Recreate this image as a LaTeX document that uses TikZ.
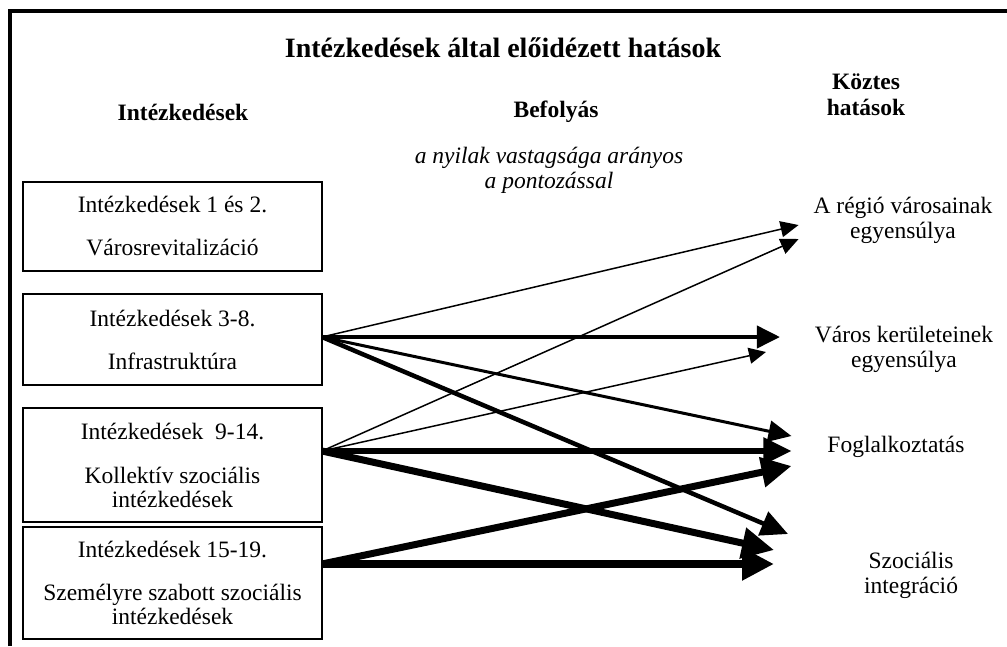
\documentclass[tikz,border=0pt]{standalone}
\usepackage{fontspec}
\setmainfont{Liberation Serif}
\usetikzlibrary{arrows.meta,calc}

\begin{document}
\begin{tikzpicture}[x=1pt,y=-1pt,
  every node/.style={inner sep=0pt, outer sep=0pt},
  measure/.style={draw, line width=1.2pt, minimum width=299pt, align=center,
    font=\fontsize{23.5}{24}\selectfont},
  effect/.style={align=center, font=\fontsize{23.5}{25}\selectfont},
  head/.style={align=center, font=\fontsize{23.5}{26}\selectfont\bfseries},
  infl/.style n args={3}{line width=#1, -{Triangle[length=#2,width=#3]}},
]
\useasboundingbox (0,0) rectangle (1007,646);

% frame: top and left rules
\draw[line width=4pt, line join=miter] (10,646) -- (10,10.5) -- (1007,10.5);

% title and column heads
\node[font=\fontsize{28}{30}\selectfont\bfseries] (title) at (503,48)
  {Intézkedések által előidézett hatások};
\node[head] (hMeasures) at (183,112) {Intézkedések};
\node[head] (hInfl) at (556,112) {Befolyás};
\node[head] (hEffects) at (866,95) {Köztes\\hatások};
\node[effect, font=\fontsize{23.5}{25}\selectfont\itshape] (note) at (549,170)
  {a nyilak vastagsága arányos\\a pontozással};

% measures
\node[measure, minimum height=89pt] (b1) at (172.5,226.5)
  {Intézkedések 1 és 2.\\[19pt]Városrevitalizáció};
\node[measure, minimum height=91pt] (b2) at (172.5,339.5)
  {Intézkedések 3-8.\\[19pt]Infrastruktúra};
\node[measure, minimum height=114pt] (b3) at (172.5,465)
  {Intézkedések\ \ 9-14.\\[20pt]Kollektív szociális\\intézkedések};
\node[measure, minimum height=112pt] (b4) at (172.5,583)
  {Intézkedések 15-19.\\[19pt]Személyre szabott szociális\\intézkedések};

% intermediate effects
\node[effect] (r1) at (903,220) {A régió városainak\\egyensúlya};
\node[effect] (r2) at (904,349.5) {Város kerületeinek\\egyensúlya};
\node[effect] (r3) at (896,447) {Foglalkoztatás};
\node[effect] (r4) at (911,575.5) {Szociális\\integráció};

% arrow origins on the measure boxes
\coordinate (s2) at ($(b2.north east)+(0,43)$);
\coordinate (s3) at ($(b3.north east)+(0,43)$);
\coordinate (s4) at ($(b4.north east)+(0,37)$);

% arrow tips in front of the effects
\coordinate (t1a) at ($(r1.west)+(-15,5)$);
\coordinate (t1b) at ($(r1.west)+(-15,19)$);
\coordinate (t2a) at ($(r2.west)+(-35,-12.5)$);
\coordinate (t2b) at ($(r2.west)+(-49,2.5)$);
\coordinate (t3a) at ($(r3.west)+(-36,-11)$);
\coordinate (t3b) at ($(r3.west)+(-36,4)$);
\coordinate (t3c) at ($(r3.west)+(-36,19)$);
\coordinate (t4a) at ($(r4.west)+(-76,-41.5)$);
\coordinate (t4b) at ($(r4.west)+(-90,-25.5)$);
\coordinate (t4c) at ($(r4.west)+(-90,-11.5)$);

% influences, line width proportional to the score
\draw[infl={1.5pt}{18pt}{16pt}] (s2) -- (t1a);
\draw[infl={1.5pt}{18pt}{16pt}] (s3) -- (t1b);
\draw[infl={4pt}{23pt}{22pt}] (s2) -- (t2a);
\draw[infl={1.5pt}{17pt}{16pt}] (s3) -- (t2b);
\draw[infl={3pt}{23pt}{21pt}] (s2) -- (t3a);
\draw[infl={5.5pt}{28pt}{26pt}] (s3) -- (t3b);
\draw[infl={7pt}{30pt}{29pt}] (s4) -- (t3c);
\draw[infl={4.5pt}{27pt}{25pt}] (s2) -- (t4a);
\draw[infl={7pt}{32pt}{30pt}] (s3) -- (t4b);
\draw[infl={8pt}{32pt}{31pt}] (s4) -- (t4c);
\end{tikzpicture}
\end{document}
